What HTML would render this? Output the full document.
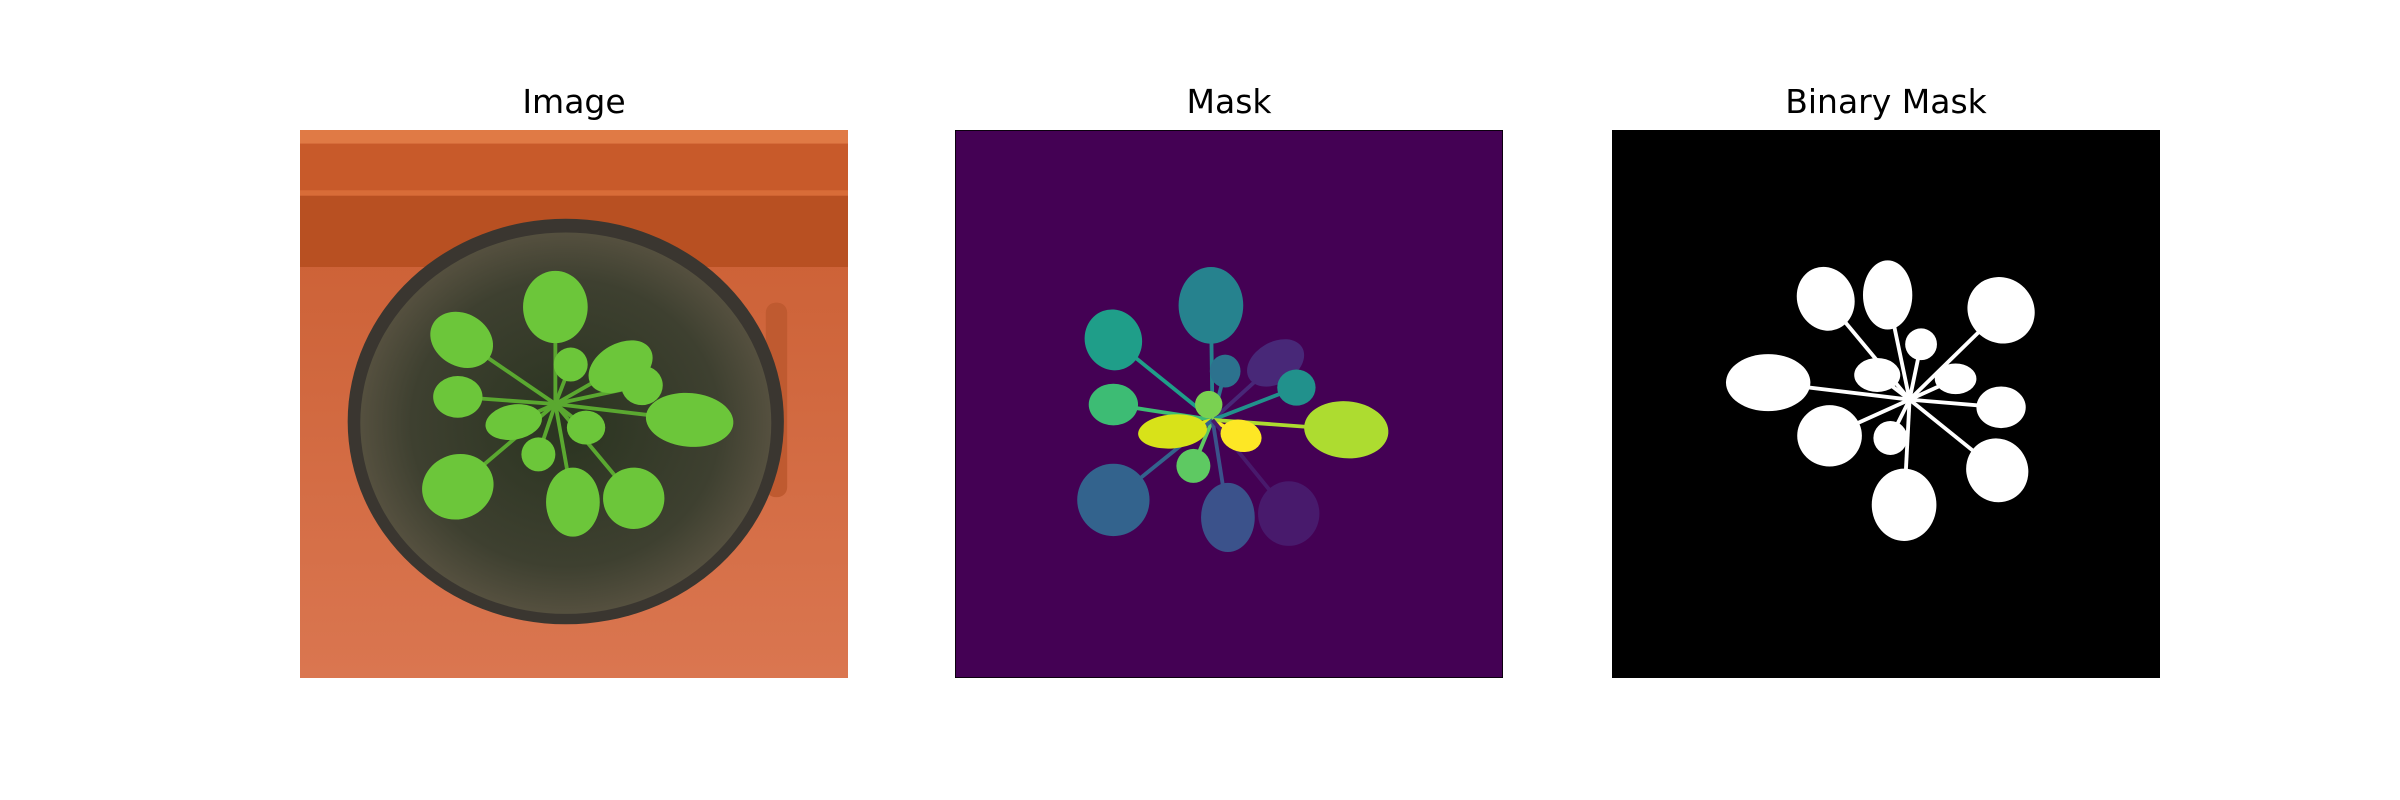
<!DOCTYPE html>
<html><head><meta charset="utf-8">
<style>
html,body{margin:0;padding:0;background:#fff;}
body{width:2400px;height:800px;position:relative;overflow:hidden;font-family:"DejaVu Sans","Liberation Sans",sans-serif;}
.title{position:absolute;font-size:33px;color:#000;text-align:center;width:548px;top:82px;line-height:40px;}
svg.panel{position:absolute;top:130px;width:548px;height:548px;}
</style></head>
<body>
<div class="title" style="left:300px">Image</div>
<div class="title" style="left:955px">Mask</div>
<div class="title" style="left:1612px">Binary Mask</div>

<svg class="panel" id="p1" style="left:300px" viewBox="0 0 1000 1000" preserveAspectRatio="none">
  <defs>
    <linearGradient id="bg" x1="0" y1="0" x2="0" y2="1">
      <stop offset="0" stop-color="#c95c30"/><stop offset="1" stop-color="#da7650"/>
    </linearGradient>
    <radialGradient id="soil" cx="0.5" cy="0.5" r="0.5">
      <stop offset="0" stop-color="#2a3420"/><stop offset="0.75" stop-color="#3e4030"/><stop offset="1" stop-color="#55503f"/>
    </radialGradient>
  </defs>
  <rect x="0" y="0" width="1000" height="1000" fill="url(#bg)"/>
  <rect x="0" y="0" width="1000" height="25" fill="#e07a45"/>
  <rect x="0" y="25" width="1000" height="85" fill="#c85a2a"/>
  <rect x="0" y="110" width="1000" height="10" fill="#d86c38"/>
  <rect x="0" y="120" width="1000" height="130" fill="#b85022"/>
  <rect x="850" y="315" width="39" height="355" rx="18" fill="#bf5a30"/>
  <ellipse cx="485" cy="532" rx="398" ry="370" fill="#3a3630"/>
  <ellipse cx="485" cy="535" rx="375" ry="348" fill="url(#soil)"/>
  <g id="g1"></g>
</svg>

<svg class="panel" id="p2" style="left:955px" viewBox="0 0 1000 1000" preserveAspectRatio="none">
  <rect x="0" y="0" width="1000" height="1000" fill="#440154" stroke="#000" stroke-width="3"/>
  <g id="g2"></g>
</svg>

<svg class="panel" id="p3" style="left:1612px" viewBox="0 0 1000 1000" preserveAspectRatio="none">
  <rect x="0" y="0" width="1000" height="1000" fill="#000"/>
  <g id="g3"></g>
</svg>

<script>
// leaves: [cx, cy, rx, ry, rotation]
const imgCenter = [466, 500];
const imgLeaves = [[466,323,59,66,0],[295,383,60,48,30],[494,428,31,31,0],[585,432,63,42,-30],[624,466,38,36,0],[288,487,45,38,0],[390,533,52,32,-10],[522,543,35,31,0],[711,529,80,49,5],[435,592,31,31,0],[288,651,66,59,-20],[498,679,49,63,0],[609,672,56,56,0]];
const maskCenter = [470, 529];
const maskLeaves = [[467,320,59,70,0],[289,383,52,56,-20],[493,440,28,30,0],[585,425,56,38,-30],[623,470,35,33,0],[289,501,45,38,0],[397,550,63,31,-5],[522,558,38,29,15],[714,547,77,52,5],[435,613,31,31,0],[463,501,25,25,0],[289,675,66,66,0],[498,707,49,63,0],[609,700,56,59,0]];
const maskColors = ['#26828e','#1f9e89','#2c728e','#482878','#21918c','#3dbc74','#d8e219','#fde725','#addc30','#5ec962','#7ad151','#33638d','#3b528b','#481a6c'];
const binCenter = [543, 492];
const binLeaves = [[390,308,52,59,-20],[503,301,45,63,0],[710,329,63,59,40],[564,391,29,29,0],[285,461,77,52,0],[484,447,42,31,0],[627,454,38,28,0],[710,506,45,38,0],[397,558,59,56,0],[508,562,31,31,0],[703,621,56,59,-30],[533,684,59,66,0]];

const NS = 'http://www.w3.org/2000/svg';
function draw(gid, center, leaves, colorFn, stemColor, name) {
  const g = document.getElementById(gid);
  leaves.forEach((l, i) => {
    const s = document.createElementNS(NS, 'line');
    s.setAttribute('x1', center[0]); s.setAttribute('y1', center[1]);
    s.setAttribute('x2', l[0]); s.setAttribute('y2', l[1]);
    s.setAttribute('stroke', stemColor(i)); s.setAttribute('stroke-width', 7);
    
    
    g.appendChild(s);
  });
  leaves.forEach((l, i) => {
    const e = document.createElementNS(NS, 'ellipse');
    e.setAttribute('cx', l[0]); e.setAttribute('cy', l[1]);
    e.setAttribute('rx', l[2]); e.setAttribute('ry', l[3]);
    e.setAttribute('transform', 'rotate(' + l[4] + ' ' + l[0] + ' ' + l[1] + ')');
    e.setAttribute('fill', colorFn(i));
    
    
    g.appendChild(e);
  });
}
draw('g1', imgCenter, imgLeaves, () => '#6cc63a', () => '#5aa830', 'image-leaf');
draw('g2', maskCenter, maskLeaves, i => maskColors[i], i => maskColors[i], 'mask-leaf');
draw('g3', binCenter, binLeaves, () => '#fff', () => '#fff', 'binary-leaf');
</script>
</body></html>
